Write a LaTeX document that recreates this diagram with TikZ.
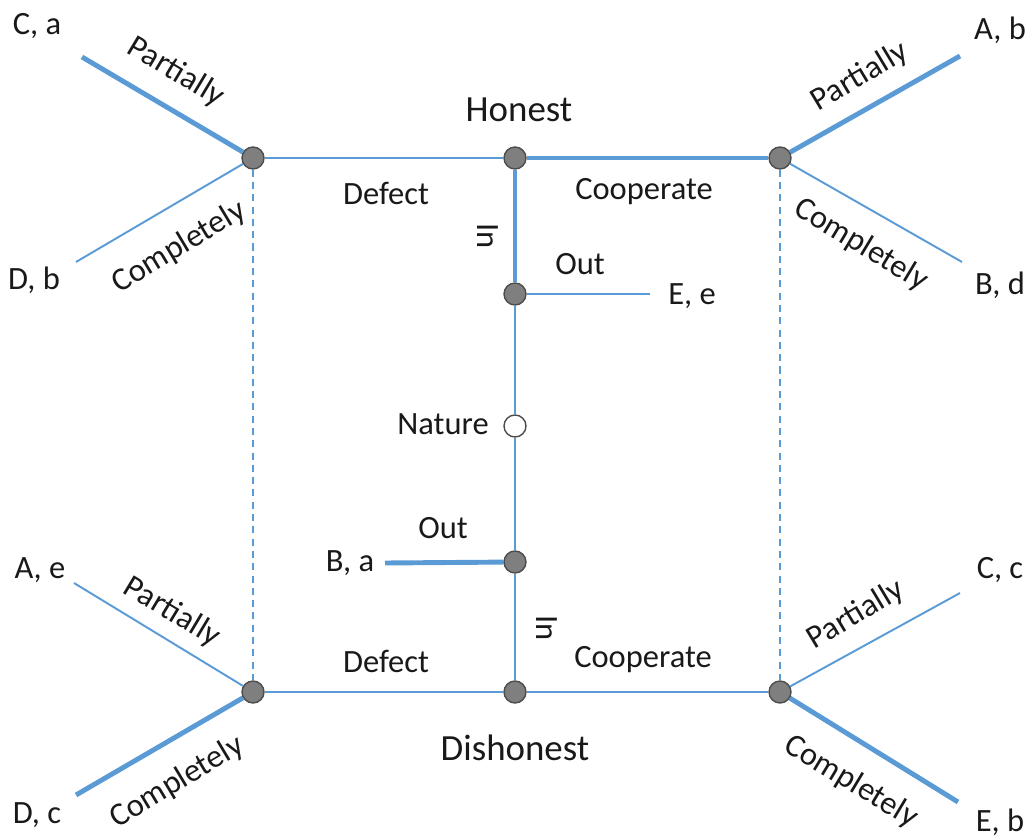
\documentclass[tikz,border=0pt]{standalone}
\usepackage{fontspec}
\setmainfont{Carlito}
\usetikzlibrary{backgrounds}
\definecolor{lblue}{HTML}{5B9BD5}
\definecolor{dgray}{HTML}{7F7F7F}
\begin{document}
\begin{tikzpicture}[x=0.02cm,y=-0.02cm,
  dec/.style={circle,draw=black!70,fill=dgray,line width=0.8pt,minimum size=0.44cm,inner sep=0pt},
  chance/.style={circle,draw=black!70,fill=white,line width=0.8pt,minimum size=0.44cm,inner sep=0pt},
  thin/.style={draw=lblue,line width=1.1pt},
  thick/.style={draw=lblue,line width=2.8pt},
  info/.style={draw=lblue,line width=1.1pt,dash pattern=on 4pt off 3pt},
  lbl/.style={font=\fontsize{18.5}{20}\selectfont,text=black!90,inner sep=0pt},
  big/.style={font=\fontsize{21}{23}\selectfont,text=black!90,inner sep=0pt}]
\useasboundingbox (0,0) rectangle (1026,837);
% nodes
\node[dec] (TL) at (253,158) {};
\node[dec] (TM) at (515,158) {};
\node[dec] (TR) at (780,158) {};
\node[dec] (OT) at (515,294) {};
\node[chance] (N) at (515,426) {};
\node[dec] (OB) at (515,562) {};
\node[dec] (BL) at (253,692) {};
\node[dec] (BM) at (515,692) {};
\node[dec] (BR) at (780,692) {};
% free ends
\coordinate (TLp) at (82,57);
\coordinate (TLc) at (76,262);
\coordinate (TRp) at (960,56);
\coordinate (TRc) at (962,262);
\coordinate (BLp) at (74,583);
\coordinate (BLc) at (76,795);
\coordinate (BRp) at (960,593);
\coordinate (BRc) at (958,802);
\coordinate (Ee) at (650,294);
\coordinate (Ba) at (385,563);
% connectors
\begin{scope}[on background layer]
\draw[thin] (TL) -- (TM);
\draw[thick] (TM) -- (TR);
\draw[thick] (TM) -- (OT);
\draw[thin] (OT) -- (Ee);
\draw[thin] (OT) -- (N);
\draw[thin] (N) -- (OB);
\draw[thick] (OB) -- (Ba);
\draw[thin] (OB) -- (BM);
\draw[thin] (BL) -- (BM);
\draw[thin] (BM) -- (BR);
\draw[info] (TL) -- (BL);
\draw[info] (TR) -- (BR);
\draw[thick] (TL) -- (TLp);
\draw[thin] (TL) -- (TLc);
\draw[thick] (TR) -- (TRp);
\draw[thin] (TR) -- (TRc);
\draw[thin] (BL) -- (BLp);
\draw[thick] (BL) -- (BLc);
\draw[thin] (BR) -- (BRp);
\draw[thick] (BR) -- (BRc);
\end{scope}
% labels
\node[big] (honest) at (519,110) {Honest};
\node[big] (dishonest) at (515,748) {Dishonest};
\node[lbl] (dT) at (386,193) {Defect};
\node[lbl] (cT) at (644,192) {Cooperate};
\node[lbl] (dB) at (386,661) {Defect};
\node[lbl] (cB) at (643,660) {Cooperate};
\node[lbl] (oT) at (580,264) {Out};
\node[lbl] (oB) at (443,528) {Out};
\node[lbl,rotate=-90] (iT) at (488,236) {In};
\node[lbl,rotate=-90] (iB) at (547,628) {In};
\node[lbl] (nat) at (443,424) {Nature};
\node[lbl] (lEe) at (692,296) {E, e};
\node[lbl] (lBa) at (350,563) {B, a};
\node[lbl] (lCa) at (37,26) {C, a};
\node[lbl] (lDb) at (34,280) {D, b};
\node[lbl] (lAb) at (1000,30) {A, b};
\node[lbl] (lBd) at (1000,285) {B, d};
\node[lbl] (lAe) at (40,570) {A, e};
\node[lbl] (lDc) at (37,815) {D, c};
\node[lbl] (lCc) at (1000,570) {C, c};
\node[lbl] (lEb) at (1000,822) {E, b};
\node[lbl,rotate=-31] (p1) at (176,72) {Partially};
\node[lbl,rotate=31] (c1) at (179,247) {Completely};
\node[lbl,rotate=31] (p2) at (860,77) {Partially};
\node[lbl,rotate=-31] (c2) at (861,245) {Completely};
\node[lbl,rotate=-31] (p3) at (172,612) {Partially};
\node[lbl,rotate=31] (c3) at (177,782) {Completely};
\node[lbl,rotate=31] (p4) at (856,615) {Partially};
\node[lbl,rotate=-31] (c4) at (851,782) {Completely};
\end{tikzpicture}
\end{document}
